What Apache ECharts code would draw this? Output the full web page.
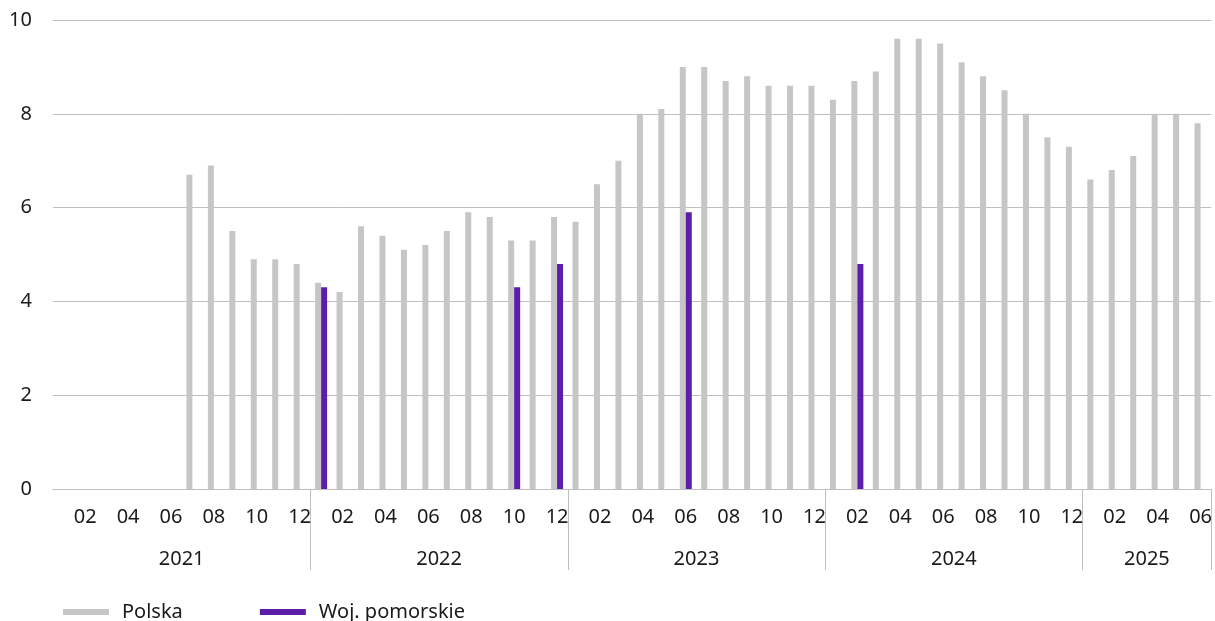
<!DOCTYPE html>
<html>
<head>
<meta charset="utf-8">
<script src="https://cdn.jsdelivr.net/npm/echarts@6/dist/echarts.min.js"></script>
<style>
html,body{margin:0;padding:0;background:#fff;}
#chart{width:1215px;height:621px;}
</style>
</head>
<body>
<div id="chart"></div>
<script>
var years = ['2021', '2022', '2023', '2024', '2025'];
var monthLabels = ['01','02','03','04','05','06','07','08','09','10','11','12'];
var months = [];
years.forEach(function (y) {
  var n = (y === '2025') ? 6 : 12;
  for (var m = 0; m < n; m++) months.push(y + '-' + monthLabels[m]);
});

var polska = [
  null, null, null, null, null, null, 6.7, 6.9, 5.5, 4.9, 4.9, 4.8,
  4.4, 4.2, 5.6, 5.4, 5.1, 5.2, 5.5, 5.9, 5.8, 5.3, 5.3, 5.8,
  5.7, 6.5, 7.0, 8.0, 8.1, 9.0, 9.0, 8.7, 8.8, 8.6, 8.6, 8.6,
  8.3, 8.7, 8.9, 9.6, 9.6, 9.5, 9.1, 8.8, 8.5, 8.0, 7.5, 7.3,
  6.6, 6.8, 7.1, 8.0, 8.0, 7.8
];
var pomorskie = [
  null, null, null, null, null, null, null, null, null, null, null, null,
  4.3, null, null, null, null, null, null, null, null, 4.3, null, 4.8,
  null, null, null, null, null, 5.9, null, null, null, null, null, null,
  null, 4.8, null, null, null, null, null, null, null, null, null, null,
  null, null, null, null, null, null
];
var yTicks = [0, 2, 4, 6, 8, 10];

// year label anchors: middle of each year's span
var yearMid = {};
(function () {
  var start = 0;
  years.forEach(function (y) {
    var n = months.filter(function (m) { return m.indexOf(y) === 0; }).length;
    yearMid[start + Math.floor(n / 2)] = y;
    start += n;
  });
})();

var FONT = 'Noto Sans';
var FS = 20;
var chart = echarts.init(document.getElementById('chart'));
chart.setOption({
  animation: false,
  textStyle: { fontFamily: FONT },
  grid: { left: 53, right: 3, top: 20, bottom: 132, containLabel: false },
  legend: {
    left: 58,
    top: 597,
    icon: 'rect',
    itemWidth: 46,
    itemHeight: 6,
    itemGap: 77,
    data: ['Polska', 'Woj. pomorskie'],
    textStyle: { fontFamily: FONT, fontSize: FS, color: '#1a1a1a', padding: [0, 0, 0, 8] }
  },
  xAxis: [
    {
      type: 'category',
      data: months,
      boundaryGap: true,
      axisLine: { show: true, lineStyle: { color: '#bfbfbf', width: 1 } },
      axisTick: { show: false },
      axisLabel: {
        interval: function (i) { return i % 2 === 1; },
        formatter: function (v) { return v.slice(5); },
        fontFamily: FONT,
        fontSize: FS,
        color: '#1a1a1a',
        margin: 18
      }
    },
    {
      type: 'category',
      data: months,
      position: 'bottom',
      boundaryGap: true,
      axisLine: { show: false },
      axisTick: {
        show: true,
        interval: function (i) { return i > 0 && i % 12 === 0; },
        length: 81,
        lineStyle: { color: '#bfbfbf', width: 1 }
      },
      axisLabel: {
        interval: function (i) { return yearMid[i] !== undefined; },
        formatter: function (v, i) { return yearMid[i] || ''; },
        fontFamily: FONT,
        fontSize: FS,
        color: '#1a1a1a',
        margin: 60,
        padding: [0, 21.5, 0, 0]
      }
    }
  ],
  yAxis: {
    type: 'value',
    min: yTicks[0],
    max: yTicks[yTicks.length - 1],
    interval: 2,
    axisLine: { show: false },
    axisTick: { show: false },
    splitLine: { lineStyle: { color: '#bfbfbf', width: 1 } },
    axisLabel: { fontFamily: FONT, fontSize: FS, color: '#1a1a1a', margin: 21 }
  },
  series: [
    {
      name: 'Polska',
      type: 'bar',
      data: polska,
      barWidth: 6,
      barGap: '0%',
      itemStyle: { color: '#c6c6c6' }
    },
    {
      name: 'Woj. pomorskie',
      type: 'bar',
      data: pomorskie,
      barWidth: 6,
      barGap: '0%',
      itemStyle: { color: '#5c1ea8' }
    }
  ]
});
</script>
</body>
</html>
